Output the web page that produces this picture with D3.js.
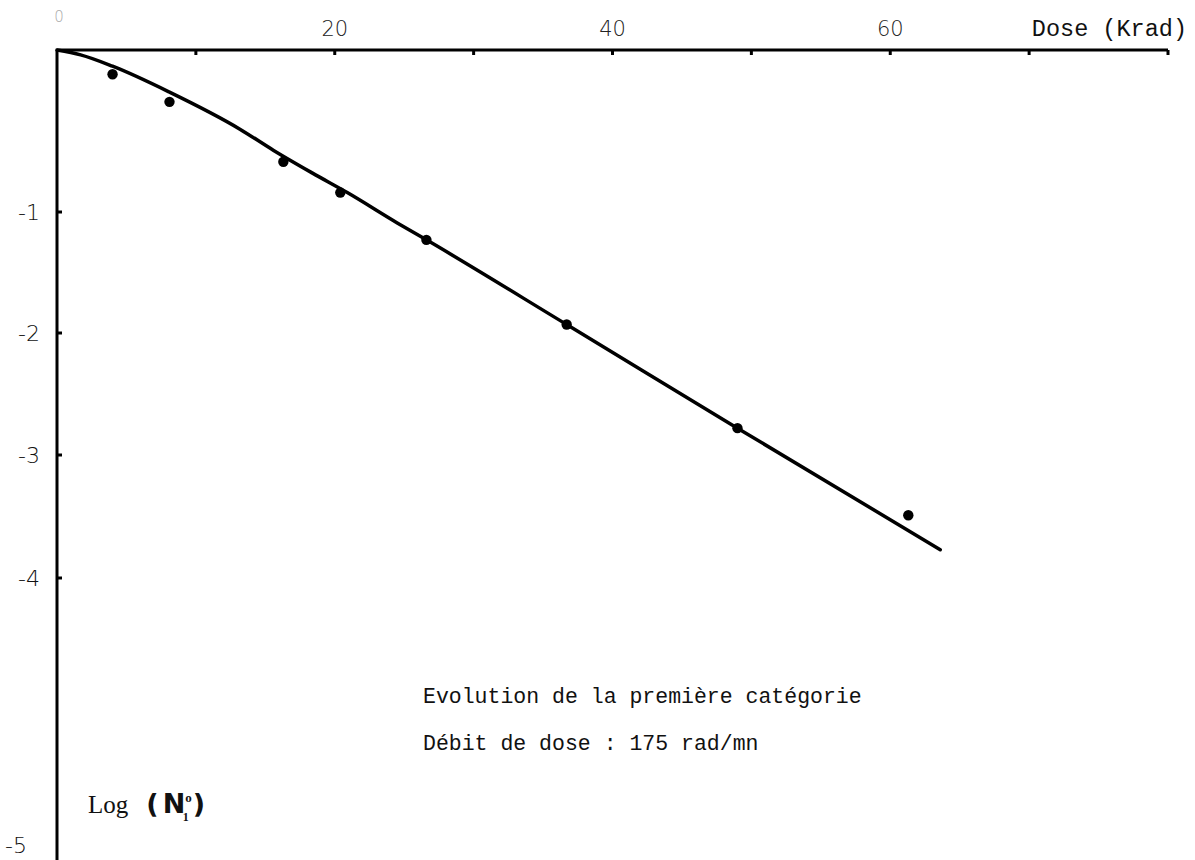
<!DOCTYPE html>
<html>
<head>
<meta charset="utf-8">
<script src="https://cdn.jsdelivr.net/npm/d3@7"></script>
<style>
  body { margin: 0; background: #fff; }
  text { font-family: "Liberation Mono", "DejaVu Sans Mono", monospace; fill: #111; }
</style>
</head>
<body>
<div id="chart"></div>
<script>
// measured points (dose in Krad, log N1)
var doses = [4.0, 8.1, 16.3, 20.4, 26.6, 36.7, 49.0, 61.3];
var logN = [-0.15, -0.32, -0.69, -0.88, -1.23, -1.93, -2.78, -3.49];

// hand drawn fitted curve
var curveX = [0, 1.7, 4.0, 8.1, 13.2, 15.6, 18.4, 20.9, 24.5, 26.6, 36.7, 49.0, 63.6];
var curveY = [0, -0.03, -0.10, -0.26, -0.49, -0.62, -0.76, -0.88, -1.09, -1.23, -1.93, -2.78, -3.77];

var xTicks = [0, 10, 20, 30, 40, 50, 60, 70, 80];
var xTickLabels = {0: "0", 20: "20", 40: "40", 60: "60"};
var yTicks = [-1, -2, -3, -4, -5];

var width = 1195, height = 860;

var svg = d3.select("#chart").append("svg")
    .attr("width", width)
    .attr("height", height);

var x = d3.scaleLinear().domain([0, 80]).range([57, 1168]);
// the original drawing has uneven spacing on its vertical axis
var y = d3.scaleLinear()
    .domain([0, -1, -2, -3, -4, -5])
    .range([50, 212, 333, 455, 578, 845]);

// x axis (drawn along the top)
svg.append("line")
    .attr("x1", x(0)).attr("x2", x(80))
    .attr("y1", y(0)).attr("y2", y(0))
    .attr("stroke", "#000").attr("stroke-width", 3);

svg.selectAll(".xtick")
  .data(xTicks.slice(1))
  .enter()
  .append("line")
    .attr("x1", d => x(d)).attr("x2", d => x(d))
    .attr("y1", y(0)).attr("y2", y(0) + 5)
    .attr("stroke", "#000").attr("stroke-width", 3);

svg.selectAll(".xlab")
  .data(xTicks.filter(d => xTickLabels[d] !== undefined))
  .enter()
  .append("text")
    .attr("x", d => x(d) + (d == 0 ? 2 : 0))
    .attr("y", d => d == 0 ? 22 : 36)
    .attr("text-anchor", "middle")
    .style("font-family", "'DejaVu Sans', sans-serif")
    .style("font-weight", "200")
    .style("font-size", d => d == 0 ? "15px" : "21px")
    .style("fill", d => d == 0 ? "#aaa" : "#222")
    .text(d => xTickLabels[d]);

svg.append("text")
    .attr("x", 1187).attr("y", 36)
    .attr("text-anchor", "end")
    .style("font-size", "23.5px")
    .text("Dose (Krad)");

// y axis
svg.append("line")
    .attr("x1", x(0)).attr("x2", x(0))
    .attr("y1", y(0)).attr("y2", height)
    .attr("stroke", "#000").attr("stroke-width", 3);

svg.selectAll(".ytick")
  .data(yTicks.slice(0, 4))
  .enter()
  .append("line")
    .attr("x1", x(0)).attr("x2", x(0) + 5)
    .attr("y1", d => y(d)).attr("y2", d => y(d))
    .attr("stroke", "#000").attr("stroke-width", 3);

svg.selectAll(".ylab")
  .data(yTicks)
  .enter()
  .append("text")
    .attr("x", d => d == -5 ? 27 : 40)
    .attr("y", d => y(d) + 8)
    .attr("text-anchor", "end")
    .style("font-family", "'DejaVu Sans', sans-serif")
    .style("font-weight", "200")
    .style("font-size", "22px")
    .text(d => "-" + Math.abs(d));

// fitted curve
var curve = curveX.map((d, i) => [d, curveY[i]]);
svg.append("path")
    .datum(curve)
    .attr("fill", "none")
    .attr("stroke", "#000")
    .attr("stroke-width", 3.5)
    .attr("stroke-linecap", "round")
    .attr("d", d3.line().x(d => x(d[0])).y(d => y(d[1])).curve(d3.curveMonotoneX));

// data points
svg.selectAll(".pt")
  .data(doses)
  .enter()
  .append("circle")
    .attr("cx", d => x(d))
    .attr("cy", (d, i) => y(logN[i]))
    .attr("r", 5.2)
    .attr("fill", "#000");

// annotation
svg.append("text")
    .attr("x", 423).attr("y", 703)
    .style("font-size", "21.5px")
    .text("Evolution de la première catégorie");
svg.append("text")
    .attr("x", 423).attr("y", 750)
    .style("font-size", "21.5px")
    .text("Débit de dose : 175 rad/mn");

// y label
var lab = svg.append("text")
    .attr("x", 88).attr("y", 813)
    .style("font-family", "'Liberation Serif', serif")
    .style("font-size", "25px");
lab.append("tspan").text("Log");
lab.append("tspan").attr("dx", 18).style("font-weight", "bold")
    .style("font-family", "'DejaVu Sans', sans-serif").style("font-size", "27px").text("(");
lab.append("tspan").attr("dx", 4).style("font-weight", "bold")
    .style("font-family", "'DejaVu Sans', sans-serif").style("font-size", "27px").text("N");
lab.append("tspan").attr("dy", -11).style("font-weight", "bold").style("font-size", "13px").text("o");
lab.append("tspan").attr("dx", -9).attr("dy", 19).style("font-weight", "bold").style("font-size", "12px").text("1");
lab.append("tspan").attr("dx", 4).attr("dy", -8).style("font-weight", "bold")
    .style("font-family", "'DejaVu Sans', sans-serif").style("font-size", "27px").text(")");
</script>
</body>
</html>
